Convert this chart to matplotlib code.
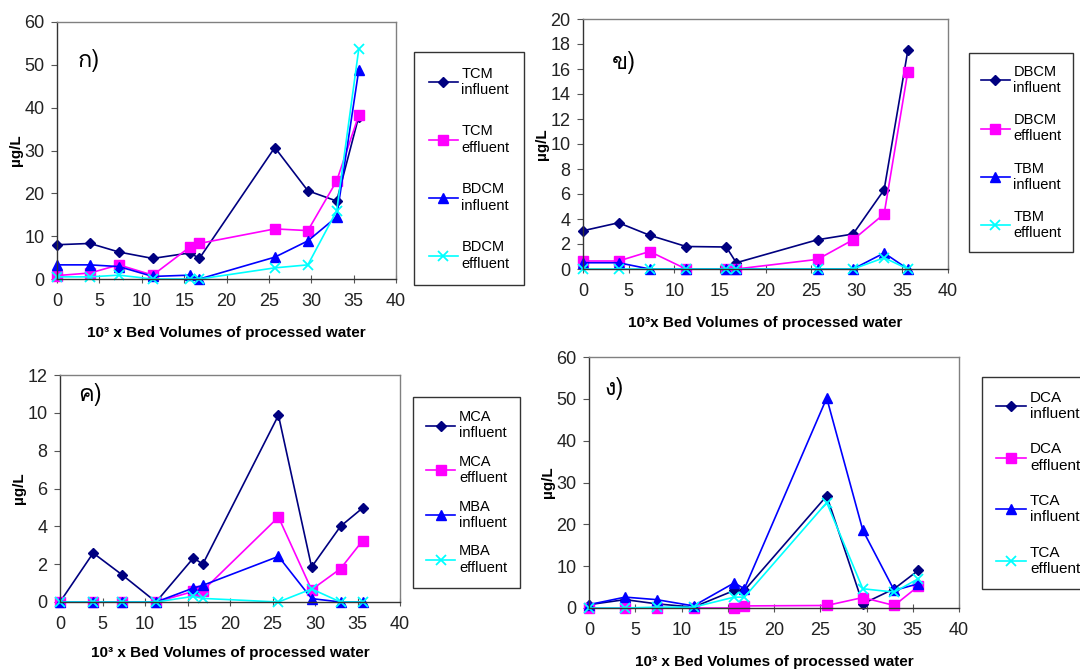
import matplotlib
matplotlib.use("Agg")
import matplotlib.pyplot as plt
from matplotlib import font_manager
from matplotlib.ft2font import FT2Font

# bed volumes (x 10^3), same sampling for every panel
bed_volumes = [0, 3.9, 7.3, 11.3, 15.7, 16.8, 25.7, 29.6, 33.0, 35.6]

# panel a: TCM / BDCM
tcm_inf = [8.0, 8.3, 6.3, 4.8, 6.1, 4.8, 30.7, 20.6, 18.2, 37.9]
tcm_eff = [0.8, 1.4, 3.3, 0.9, 7.5, 8.3, 11.7, 11.3, 22.9, 38.2]
bdcm_inf = [3.3, 3.3, 2.9, 0.6, 0.9, 0.0, 5.1, 8.9, 14.5, 48.7]
bdcm_eff = [0.5, 0.5, 0.9, 0.0, 0.0, 0.0, 2.6, 3.3, 15.9, 53.6]

# panel b: DBCM / TBM
dbcm_inf = [3.06, 3.7, 2.7, 1.8, 1.76, 0.5, 2.34, 2.8, 6.34, 17.5]
dbcm_eff = [0.64, 0.64, 1.4, 0.0, 0.0, 0.0, 0.77, 2.34, 4.4, 15.8]
tbm_inf = [0.5, 0.5, 0.0, 0.0, 0.0, 0.0, 0.0, 0.0, 1.28, 0.0]
tbm_eff = [0.0, 0.0, 0.0, 0.0, 0.0, 0.0, 0.0, 0.0, 0.9, 0.0]

# panel c: MCA / MBA
mca_inf = [0.0, 2.59, 1.44, 0.0, 2.33, 2.0, 9.87, 1.85, 4.0, 4.97]
mca_eff = [0.0, 0.0, 0.0, 0.0, 0.56, 0.6, 4.49, 0.65, 1.76, 3.24]
mba_inf = [0.0, 0.0, 0.0, 0.0, 0.74, 0.88, 2.41, 0.18, 0.0, 0.0]
mba_eff = [0.0, 0.0, 0.0, 0.0, 0.3, 0.19, 0.0, 0.69, 0.0, 0.0]

# panel d: DCA / TCA
dca_inf = [0.8, 2.0, 1.0, 0.2, 4.2, 4.2, 26.8, 1.0, 4.6, 9.0]
dca_eff = [0.0, 0.0, 0.0, 0.0, 0.0, 0.5, 0.6, 2.5, 0.6, 5.2]
tca_inf = [0.8, 2.6, 2.0, 0.5, 6.0, 4.6, 50.2, 18.6, 4.2, 5.8]
tca_eff = [0.0, 0.0, 0.2, 0.2, 2.6, 2.6, 25.2, 4.6, 3.8, 7.0]

W, H = 1080, 671


def thai_font():
    # first installed font that has Thai glyphs
    for f in font_manager.fontManager.ttflist:
        try:
            if 0x0E01 in FT2Font(f.fname).get_charmap():
                return f.name
        except Exception:
            pass
    return "DejaVu Sans"


THAI = thai_font()
plt.rcParams["font.family"] = ["Liberation Sans", "DejaVu Sans"]

styles = [
    dict(color="#000080", marker="D", markersize=5),
    dict(color="#FF00FF", marker="s", markersize=6.5),
    dict(color="#0000FF", marker="^", markersize=7),
    dict(color="#00FFFF", marker="x", markersize=7, markeredgewidth=1.3),
]

panels = [
    dict(box=(57, 396, 22, 279), ymax=60, ystep=10, tag="ก)", tag_xy=(78, 60),
         xlabel="10³ x Bed Volumes of processed water", xlab_y=333,
         series=[tcm_inf, tcm_eff, bdcm_inf, bdcm_eff],
         names=["TCM\ninfluent", "TCM\neffluent", "BDCM\ninfluent", "BDCM\neffluent"],
         leg=(414, 52), leg_fs=10.5, leg_sp=1.9, leg_pad=1.0),
    dict(box=(583, 948, 19, 269), ymax=20, ystep=2, tag="ข)", tag_xy=(612, 63),
         xlabel="10³x Bed Volumes of processed water", xlab_y=323,
         series=[dbcm_inf, dbcm_eff, tbm_inf, tbm_eff],
         names=["DBCM\ninfluent", "DBCM\neffluent", "TBM\ninfluent", "TBM\neffluent"],
         leg=(969, 53), leg_fs=10.5, leg_sp=1.25, leg_pad=0.8),
    dict(box=(60, 400, 375, 602), ymax=12, ystep=2, tag="ค)", tag_xy=(78, 394),
         xlabel="10³ x Bed Volumes of processed water", xlab_y=653,
         series=[mca_inf, mca_eff, mba_inf, mba_eff],
         names=["MCA\ninfluent", "MCA\neffluent", "MBA\ninfluent", "MBA\neffluent"],
         leg=(413, 397), leg_fs=10.5, leg_sp=1.0, leg_pad=0.9),
    dict(box=(589, 959, 357, 608), ymax=60, ystep=10, tag="ง)", tag_xy=(604, 388),
         xlabel="10³ x Bed Volumes of processed water", xlab_y=662,
         series=[dca_inf, dca_eff, tca_inf, tca_eff],
         names=["DCA\ninfluent", "DCA\neffluent", "TCA\ninfluent", "TCA\neffluent"],
         leg=(982, 377), leg_fs=11, leg_sp=1.4, leg_pad=0.9),
]

fig = plt.figure(figsize=(W / 100, H / 100), dpi=100)

for p in panels:
    x0, x1, y0, y1 = p["box"]
    ax = fig.add_axes([x0 / W, 1 - y1 / H, (x1 - x0) / W, (y1 - y0) / H])
    for vals, st, name in zip(p["series"], styles, p["names"]):
        ax.plot(bed_volumes, vals, linewidth=1.2, label=name, clip_on=False, **st)

    ax.set_xlim(0, 40)
    ax.set_ylim(0, p["ymax"])
    ax.set_xticks(range(0, 41, 5))
    ax.set_yticks(range(0, p["ymax"] + 1, p["ystep"]))
    ax.tick_params(axis="both", labelsize=13, color="#555555", length=4,
                   labelcolor="#222222")
    ax.tick_params(axis="x", direction="inout", length=6, pad=7)
    ax.tick_params(axis="y", pad=5)
    for sp in ax.spines.values():
        sp.set_color("#808080")
        sp.set_linewidth(1.0)
    ax.spines["left"].set_color("#333333")
    ax.spines["bottom"].set_color("#333333")

    ax.set_ylabel("µg/L", fontsize=11, fontweight="bold", labelpad=1)
    fig.text((x0 + x1) / 2 / W, 1 - p["xlab_y"] / H, p["xlabel"], fontsize=11,
             fontweight="bold", ha="center", va="center")
    fig.text(p["tag_xy"][0] / W, 1 - p["tag_xy"][1] / H, p["tag"], fontsize=17,
             family=[THAI, "DejaVu Sans"], ha="left", va="center")

    lx, ly = p["leg"]
    leg = ax.legend(loc="upper left", bbox_to_anchor=(lx / W, 1 - ly / H),
                    bbox_transform=fig.transFigure, fontsize=p["leg_fs"],
                    frameon=True, fancybox=False, edgecolor="black",
                    borderpad=p["leg_pad"], labelspacing=p["leg_sp"],
                    handlelength=2.0, handletextpad=0.25, borderaxespad=0)
    leg.get_frame().set_linewidth(1.0)

fig.savefig("out.png", dpi=100)
